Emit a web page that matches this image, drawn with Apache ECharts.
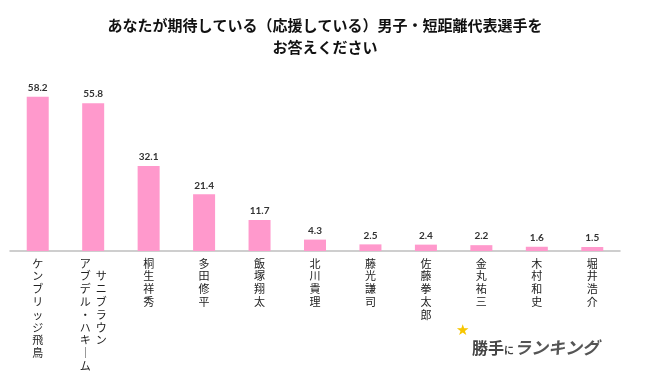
<!DOCTYPE html>
<html>
<head>
<meta charset="utf-8">
<script src="https://cdn.jsdelivr.net/npm/echarts@6/dist/echarts.min.js"></script>
<style>
    html, body { margin: 0; padding: 0; background: #fff; }
    #main { width: 650px; height: 377px; }
</style>
</head>
<body>
<div id="main"></div>
<script>
// 選手名（改行は縦書きの列の区切り）
const players = [
    'ケンブリッジ飛鳥',
    'サニブラウン\nアブデル・ハキーム',
    '桐生祥秀',
    '多田修平',
    '飯塚翔太',
    '北川貴理',
    '藤光謙司',
    '佐藤拳太郎',
    '金丸祐三',
    '木村和史',
    '堀井浩介'
];
// 割合（%）
const rates = [58.2, 55.8, 32.1, 21.4, 11.7, 4.3, 2.5, 2.4, 2.2, 1.6, 1.5];

const titleText = 'あなたが期待している（応援している）男子・短距離代表選手を\nお答えください';

// 縦書き用に文字を置き換える
const toVertical = (ch) => (ch === 'ー' ? '｜' : ch);

// 縦書きラベル（複数列は右から左へ、右の列は1行下げる）
const verticalLabel = (name) => {
    const cols = name.split('\n');
    if (cols.length === 1) {
        return Array.from(cols[0]).map(toVertical).join('\n');
    }
    const right = Array.from(cols[0]);
    const left = Array.from(cols[1]);
    const rows = Math.max(left.length, right.length + 1);
    let lines = [];
    for (let i = 0; i < rows; i++) {
        const l = left[i] ? toVertical(left[i]) : '　';
        const r = right[i - 1] ? toVertical(right[i - 1]) : '　';
        lines.push('{c|' + l + '}{c|' + r + '}');
    }
    return lines.join('\n');
};

const chart = echarts.init(document.getElementById('main'));

const option = {
    animation: false,
    backgroundColor: '#fff',
    title: {
        text: titleText,
        left: 'center',
        top: 9,
        textStyle: {
            fontFamily: 'Noto Sans CJK JP',
            fontSize: 15,
            fontWeight: 'bold',
            color: '#111',
            lineHeight: 22
        }
    },
    grid: {
        left: 10,
        right: 30,
        top: 92,
        bottom: 126,
        outerBoundsMode: 'none',
        containLabel: false
    },
    xAxis: {
        type: 'category',
        data: players,
        axisLine: { lineStyle: { color: '#bfbfbf', width: 1.5 } },
        axisTick: { show: false },
        axisLabel: {
            interval: 0,
            margin: 6,
            fontFamily: 'Noto Sans CJK JP',
            fontSize: 11,
            color: '#222',
            lineHeight: 12.8,
            formatter: verticalLabel,
            rich: {
                c: {
                    width: 16,
                    align: 'center',
                    fontFamily: 'Noto Sans CJK JP',
                    fontSize: 11,
                    color: '#222',
                    lineHeight: 12.8
                }
            }
        }
    },
    yAxis: {
        type: 'value',
        min: 0,
        max: 60,
        show: false,
        splitLine: { show: false }
    },
    series: [
        {
            type: 'bar',
            data: rates,
            barWidth: 22,
            itemStyle: { color: '#ff99cc' },
            label: {
                show: true,
                position: 'top',
                distance: 4,
                fontFamily: 'Lato',
                fontWeight: 'bold',
                fontSize: 10,
                color: '#333'
            }
        }
    ],
    graphic: [
        {
            type: 'text',
            left: 456,
            top: 323,
            style: {
                text: '★',
                fontSize: 15,
                fill: '#f7c600'
            }
        },
        {
            type: 'text',
            left: 472,
            top: 339,
            style: {
                text: '{a|勝手}{b|に}{c|ランキング}',
                rich: {
                    a: { fontFamily: 'Noto Sans CJK JP', fontWeight: 'bold', fontSize: 16, fill: '#444' },
                    b: { fontFamily: 'Noto Sans CJK JP', fontWeight: 'bold', fontSize: 10, fill: '#444', padding: [5, 0, 0, 0] },
                    c: { fontFamily: 'Noto Sans CJK JP', fontWeight: 'bold', fontStyle: 'italic', fontSize: 17, fill: '#555' }
                }
            }
        }
    ]
};

option && chart.setOption(option);
</script>
</body>
</html>
